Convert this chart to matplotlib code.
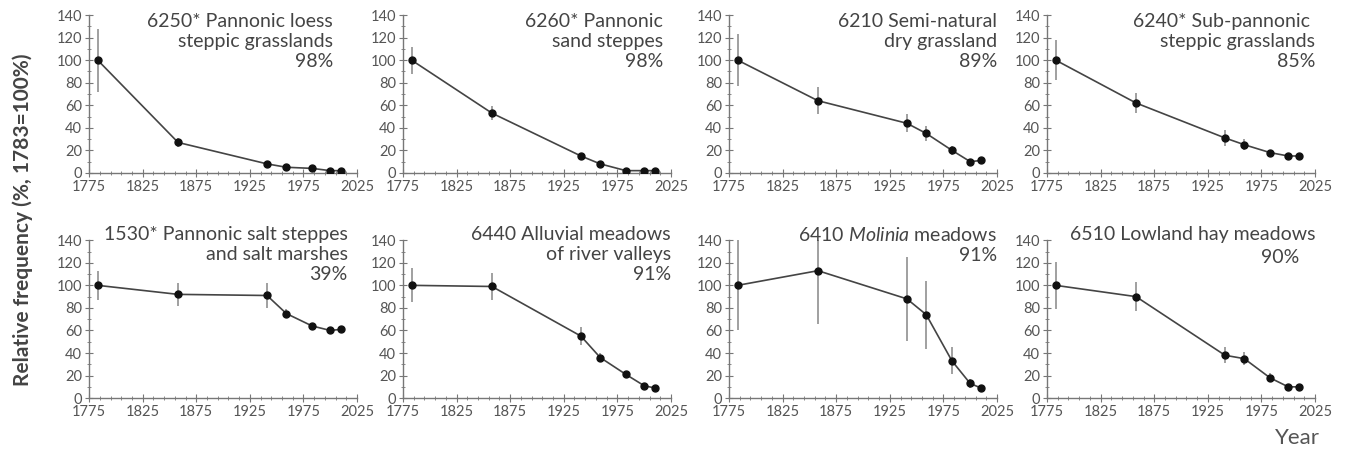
#!/usr/bin/env python
"""
Decline of grassland habitat types in the Pannonian region, 1783-2010.
Eight small panels, relative frequency with error bars.
"""

import matplotlib
matplotlib.use('Agg')
import matplotlib.pyplot as plt

plt.rcParams['font.family'] = ['Lato', 'DejaVu Sans']
plt.rcParams['mathtext.fontset'] = 'custom'
plt.rcParams['mathtext.rm'] = 'Lato'
plt.rcParams['mathtext.it'] = 'Lato:italic'

years = [1783, 1858, 1941, 1959, 1983, 2000, 2010]
year_ticks = [1775, 1825, 1875, 1925, 1975, 2025]

titles = [
    "6250* Pannonic loess\nsteppic grasslands\n98%",
    "6260* Pannonic\nsand steppes\n98%",
    "6210 Semi-natural\ndry grassland\n89%",
    "6240* Sub-pannonic \nsteppic grasslands\n85%",
    "1530* Pannonic salt steppes\nand salt marshes\n39%",
    "6440 Alluvial meadows\nof river valleys\n91%",
    "6410 $\\it{Molinia}$ meadows\n91%",
    "6510 Lowland hay meadows\n90%",
]

freq_6250 = [100, 27, 8, 5, 4, 2, 2]
err_6250 = [28, 4, 2, 1, 1, 1, 1]
freq_6260 = [100, 53, 15, 8, 2, 2, 2]
err_6260 = [12, 6, 2, 1, 1, 1, 1]
freq_6210 = [100, 64, 44, 35, 20, 10, 11]
err_6210 = [23, 12, 8, 7, 4, 2, 2]
freq_6240 = [100, 62, 31, 25, 18, 15, 15]
err_6240 = [18, 9, 7, 5, 2, 1, 1]
freq_1530 = [100, 92, 91, 75, 64, 60, 61]
err_1530 = [13, 10, 11, 4, 2, 2, 2]
freq_6440 = [100, 99, 55, 36, 21, 11, 9]
err_6440 = [15, 12, 8, 4, 2, 2, 1]
freq_6410 = [100, 113, 88, 74, 33, 13, 9]
err_6410 = [40, 47, 37, 30, 12, 4, 2]
freq_6510 = [100, 90, 38, 35, 18, 10, 10]
err_6510 = [21, 13, 7, 6, 4, 2, 1]

series = [(freq_6250, err_6250), (freq_6260, err_6260),
          (freq_6210, err_6210), (freq_6240, err_6240),
          (freq_1530, err_1530), (freq_6440, err_6440),
          (freq_6410, err_6410), (freq_6510, err_6510)]

# right edge of each title block, in axes fraction
title_x = [0.91, 0.97, 1.0, 1.0, 0.965, 1.0, 1.0, 1.0]


def draw_panel(ax, freq, err, title, tx, ty):
    """
    One small panel: line, dots and grey error bars.
    """
    ax.errorbar(years, freq, yerr=err, fmt='none', ecolor='#999999',
                elinewidth=1.3, capsize=0, zorder=2)
    ax.plot(years, freq, '-', color='#444444', lw=1.2, zorder=3)
    ax.plot(years, freq, 'o', color='#111111', ms=5, zorder=4)

    ax.set_xlim(1775, 2025)
    ax.set_ylim(0, 140)
    ax.set_xticks(year_ticks)
    ax.set_xticks(range(1775, 2026, 10), minor=True)
    ax.set_yticks(range(0, 141, 20))
    ax.set_yticks(range(0, 141, 10), minor=True)

    for side in ['top', 'right']:
        ax.spines[side].set_visible(False)
    for side in ['left', 'bottom']:
        ax.spines[side].set_color('#777777')
        ax.spines[side].set_linewidth(1.0)

    ax.tick_params(which='major', direction='inout', length=6,
                   color='#777777', labelcolor='#555555', labelsize=10.5,
                   pad=2)
    ax.tick_params(which='minor', direction='inout', length=3,
                   color='#777777')

    style = dict(transform=ax.transAxes, ha='right', va='top',
                 fontsize=14, color='#444444', linespacing=1.2)
    if title.endswith('90%'):
        # the percentage sits a little left of the title's end here
        head, pct = title.rsplit('\n', 1)
        ax.text(tx, ty, head, **style)
        ax.text(tx - 0.06, ty - 0.148, pct, **style)
    else:
        ax.text(tx, ty, title, **style)


def main():
    fig = plt.figure(figsize=(13.5, 4.55), dpi=100)

    lefts = [0.066, 0.2985, 0.540, 0.7756]
    bottoms = [0.620, 0.125]
    title_y = [1.01, 1.09]
    width = 0.1985
    height = 0.347

    for i, (freq, err) in enumerate(series):
        row, col = divmod(i, 4)
        ax = fig.add_axes([lefts[col], bottoms[row], width, height])
        draw_panel(ax, freq, err, titles[i], title_x[i], title_y[row])

    fig.text(0.017, 0.516, 'Relative frequency (%, 1783=100%)', rotation=90,
             ha='center', va='center', fontsize=15, fontweight='bold',
             color='#444444')
    fig.text(0.961, 0.037, 'Year', ha='center', va='center', fontsize=16,
             color='#555555')

    fig.savefig('out.png', dpi=100)


if __name__ == "__main__":
    main()
